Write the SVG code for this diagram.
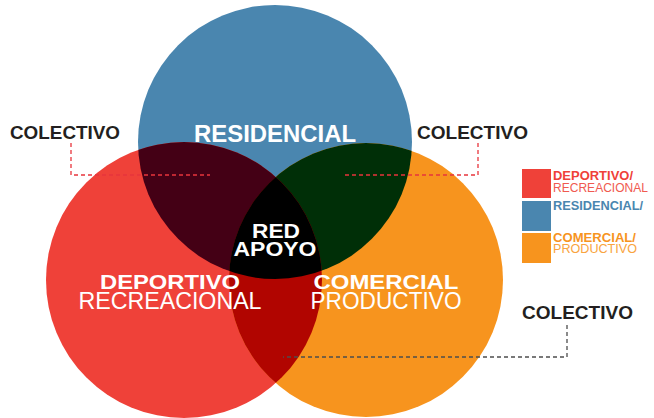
<svg xmlns="http://www.w3.org/2000/svg" width="654" height="418" viewBox="0 0 654 418">
<style>
.b{font-family:"Liberation Sans",Arial,sans-serif;font-weight:bold}
.r{font-family:"Liberation Sans",Arial,sans-serif;font-weight:normal}
.w{fill:#ffffff}
.lab{font-size:19px;fill:#231f20}
.big{font-size:21px}
.leg{font-size:12px}
.dr{fill:none;stroke:#e8353c;stroke-width:1.3;stroke-dasharray:4 3}
.dg{fill:none;stroke:#4d4d4d;stroke-width:1.3;stroke-dasharray:4 3}
</style>
<defs>
<clipPath id="cBlue"><circle cx="275" cy="142" r="137"/></clipPath>
<clipPath id="cRed"><circle cx="184" cy="280" r="138"/></clipPath>
</defs>
<g id="residencial"><circle cx="275" cy="142" r="137" fill="#4a86af"/></g>
<g id="deportivo"><circle cx="184" cy="280" r="138" fill="#ef4139"/></g>
<g id="comercial"><circle cx="366" cy="280" r="137" fill="#f7941e"/></g>
<g id="red-blue" clip-path="url(#cBlue)"><circle cx="184" cy="280" r="138" fill="#440015"/></g>
<g id="blue-orange" clip-path="url(#cBlue)"><circle cx="366" cy="280" r="137" fill="#002f07"/></g>
<g id="red-orange" clip-path="url(#cRed)"><circle cx="366" cy="280" r="137" fill="#b10500"/></g>
<g id="red-apoyo">
<g clip-path="url(#cBlue)"><g clip-path="url(#cRed)"><circle cx="366" cy="280" r="137" fill="#000000"/></g></g>
<text class="b w big" x="276" y="238" text-anchor="middle" textLength="48" lengthAdjust="spacingAndGlyphs">RED</text>
<text class="b w big" x="275" y="256" text-anchor="middle" textLength="83" lengthAdjust="spacingAndGlyphs">APOYO</text>
</g>
<g id="labels">
<text class="b w" x="275" y="142" font-size="23" text-anchor="middle" textLength="162" lengthAdjust="spacingAndGlyphs">RESIDENCIAL</text>
<text class="b w" x="170" y="289" font-size="21" text-anchor="middle" textLength="140" lengthAdjust="spacingAndGlyphs">DEPORTIVO</text>
<text class="r w" x="170" y="309" font-size="23" text-anchor="middle" textLength="183" lengthAdjust="spacingAndGlyphs">RECREACIONAL</text>
<text class="b w" x="386" y="289" font-size="21" text-anchor="middle" textLength="145" lengthAdjust="spacingAndGlyphs">COMERCIAL</text>
<text class="r w" x="386" y="309" font-size="23" text-anchor="middle" textLength="151" lengthAdjust="spacingAndGlyphs">PRODUCTIVO</text>
</g>
<g id="colectivo-1"><text class="b lab" x="10" y="139" textLength="110" lengthAdjust="spacingAndGlyphs">COLECTIVO</text></g>
<g id="colectivo-2"><text class="b lab" x="417" y="139" textLength="111" lengthAdjust="spacingAndGlyphs">COLECTIVO</text></g>
<g id="colectivo-3"><text class="b lab" x="522" y="319" textLength="111" lengthAdjust="spacingAndGlyphs">COLECTIVO</text></g>
<g id="connectors">
<path class="dr" d="M71 143 V175 H210"/>
<path class="dr" d="M478 143 V175 H344"/>
<path class="dg" d="M567 325 V357 H283"/>
</g>
<g id="legend">
<rect x="522" y="169" width="29" height="29" fill="#ef4139"/>
<rect x="522" y="201" width="29" height="30" fill="#4a86af"/>
<rect x="522" y="233" width="29" height="30" fill="#f7941e"/>
<text class="b leg" x="553" y="180" fill="#ef4139" textLength="80" lengthAdjust="spacingAndGlyphs">DEPORTIVO/</text>
<text class="r leg" x="553" y="192" fill="#f05a50" textLength="95" lengthAdjust="spacingAndGlyphs">RECREACIONAL</text>
<text class="b leg" x="553" y="210" fill="#4a86af" textLength="90" lengthAdjust="spacingAndGlyphs">RESIDENCIAL/</text>
<text class="b leg" x="553" y="242" fill="#f7941e" textLength="83" lengthAdjust="spacingAndGlyphs">COMERCIAL/</text>
<text class="r leg" x="553" y="253" fill="#f9a440" textLength="84" lengthAdjust="spacingAndGlyphs">PRODUCTIVO</text>
</g>
</svg>
